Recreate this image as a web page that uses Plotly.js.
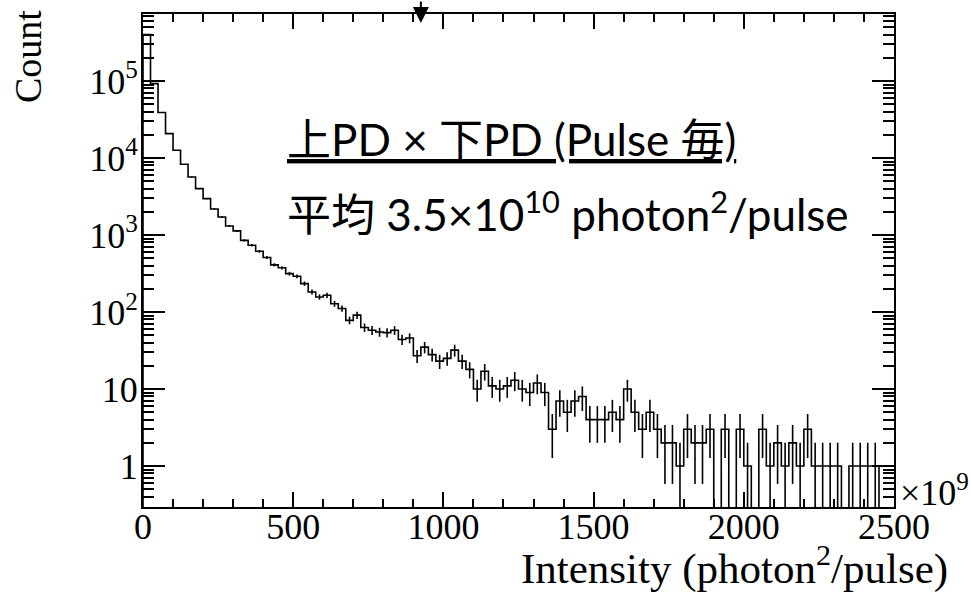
<!DOCTYPE html>
<html>
<head>
<meta charset="utf-8">
<script src="https://cdn.plot.ly/plotly-3.0.1.min.js"></script>
<style>
html,body{margin:0;padding:0;background:#fff;}
#chart{width:971px;height:594px;}
</style>
</head>
<body>
<div id="chart"></div>
<script>
// ---- data ----
const binLow = 0;          // x of first bin edge (×10^9 photon^2/pulse)
const binWidth = 25;       // bin width (×10^9)
const counts = [
  400000, 92500, 38900, 20700, 12600, 8280, 5660, 4000, 2970, 2180,
  1710, 1310, 1130, 853, 735, 614, 510, 410, 375, 315,
  291, 234, 182, 157, 165, 128, 111, 78, 91, 63,
  58, 55, 54, 58, 44, 46, 27, 35, 28, 23,
  25, 32, 23, 18, 10, 17, 11, 10, 11, 13,
  10, 9, 12, 9, 3, 7, 5, 7, 8, 4,
  4, 4, 5, 4, 10, 5, 3, 5, 3, 2,
  2, 1, 3, 2, 2, 3, 0, 3, 0, 3,
  1, 0, 3, 1, 2, 1, 2, 1, 3, 1,
  1, 1, 1, 0, 1, 1, 1, 1, 0, 0
];
const xTickVals = [0, 500, 1000, 1500, 2000, 2500];
const xTickText = ['0', '500', '1000', '1500', '2000', '2500'];
const yTickVals = [1, 10, 100, 1000, 10000, 100000];
const yTickText = ['1', '10', '10<sup>2</sup>', '10<sup>3</sup>', '10<sup>4</sup>', '10<sup>5</sup>'];
const markerX = 925;       // arrow marker on top axis
const xTitle = 'Intensity (photon<sup>2</sup>/pulse)';
const yTitle = 'Count';
const xExponent = '×10<sup>9</sup>';
const label1 = '<span style="text-decoration:underline;text-decoration-thickness:3px;text-underline-offset:7px">上PD × 下PD (Pulse 毎)</span>';
const label2 = '平均 3.5×10<sup>10</sup> photon<sup>2</sup>/pulse';

// ---- build traces from data ----
const floorY = 1e-3; // empty bins drop below the visible log range
const nb = counts.length;
const lowEdges = counts.map((_, i) => binLow + i * binWidth);
const lastVal = counts[nb - 1] > 0 ? counts[nb - 1] : floorY;
const stepX = [binLow].concat(lowEdges, [binLow + nb * binWidth]);
const stepY = [floorY].concat(counts.map(c => (c > 0 ? c : floorY)), [lastVal]);
const centers = counts.map((_, i) => binLow + (i + 0.5) * binWidth);
const errY = counts.map(c => (c > 0 ? c : null));

const serif = '"Liberation Serif", "Times New Roman", serif';
const sans = 'Lato, "Noto Sans CJK JP", sans-serif';

const traces = [
  {
    type: 'scatter', mode: 'lines',
    x: stepX, y: stepY,
    line: {shape: 'hv', color: 'black', width: 1.6},
    hoverinfo: 'skip'
  },
  {
    type: 'scatter', mode: 'markers',
    x: centers, y: errY,
    marker: {size: 1, color: 'rgba(0,0,0,0)'},
    error_y: {type: 'sqrt', visible: true, color: 'black', thickness: 1.6, width: 0},
    hoverinfo: 'skip'
  }
];

const L = 143, R = 77, T = 14, B = 87, W = 971, H = 594;
const pw = W - L - R, ph = H - T - B;
const px2x = p => (p - L) / pw;
const py2y = p => (H - B - p) / ph;

const layout = {
  width: W, height: H,
  margin: {l: L, r: R, t: T, b: B, pad: 0},
  paper_bgcolor: 'white', plot_bgcolor: 'white',
  showlegend: false,
  font: {family: serif, color: 'black', size: 36},
  xaxis: {
    range: [0, 2500],
    tickmode: 'array', tickvals: xTickVals, ticktext: xTickText,
    ticks: 'inside', ticklen: 15, tickwidth: 2, tickcolor: 'black',
    showline: true, linewidth: 2, linecolor: 'black', mirror: 'allticks',
    showgrid: false, zeroline: false,
    tickfont: {family: serif, size: 36, color: 'black'},
    ticklabelstandoff: -13,
    minor: {dtick: 100, tick0: 0, ticks: 'inside', ticklen: 8, tickwidth: 2, tickcolor: 'black', showgrid: false}
  },
  yaxis: {
    type: 'log',
    range: [-0.532, 5.870],
    tickmode: 'array', tickvals: yTickVals, ticktext: yTickText,
    ticks: 'inside', ticklen: 22, tickwidth: 2, tickcolor: 'black',
    showline: true, linewidth: 2, linecolor: 'black', mirror: 'allticks',
    showgrid: false, zeroline: false,
    tickfont: {family: serif, size: 36, color: 'black'},
    ticklabelstandoff: -4,
    minor: {dtick: 'D1', ticks: 'inside', ticklen: 11, tickwidth: 2, tickcolor: 'black', showgrid: false}
  },
  annotations: [
    {text: xTitle, xref: 'paper', yref: 'paper', x: px2x(950), y: py2y(565),
     xanchor: 'right', yanchor: 'middle', showarrow: false,
     font: {family: serif, size: 43, color: 'black'}},
    {text: yTitle, xref: 'paper', yref: 'paper', x: px2x(28), y: py2y(57),
     xanchor: 'center', yanchor: 'middle', textangle: -90, showarrow: false,
     font: {family: serif, size: 38, color: 'black'}},
    {text: xExponent, xref: 'paper', yref: 'paper', x: px2x(898), y: py2y(490),
     xanchor: 'left', yanchor: 'middle', showarrow: false,
     font: {family: serif, size: 36, color: 'black'}},
    {text: label1, xref: 'paper', yref: 'paper', x: px2x(285), y: py2y(139),
     xanchor: 'left', yanchor: 'middle', showarrow: false,
     font: {family: sans, size: 44, color: 'black'}},
    {text: label2, xref: 'paper', yref: 'paper', x: px2x(285), y: py2y(212),
     xanchor: 'left', yanchor: 'middle', showarrow: false,
     font: {family: sans, size: 44, color: 'black'}},
    {text: '', xref: 'x', yref: 'paper', x: markerX, y: py2y(23),
     showarrow: true, ax: 0, ay: -23, arrowhead: 2, arrowsize: 1.6, arrowwidth: 2,
     arrowcolor: 'black', standoff: 0}
  ]
};

Plotly.newPlot('chart', traces, layout, {staticPlot: true, displayModeBar: false});
</script>
</body>
</html>
